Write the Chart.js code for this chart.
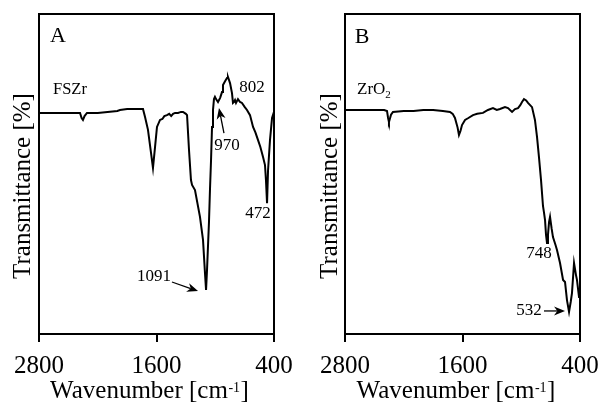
<!DOCTYPE html>
<html><head><meta charset="utf-8">
<script src="https://cdn.jsdelivr.net/npm/chart.js@4"></script>
<style>
html,body{margin:0;padding:0;background:#fff;width:603px;height:405px;overflow:hidden}
#a{position:absolute;left:0;top:0}
#b{position:absolute;left:300px;top:0}
</style></head><body>
<canvas id="a" width="300" height="405" style="width:300px;height:405px"></canvas>
<canvas id="b" width="303" height="405" style="width:303px;height:405px"></canvas>
<script>
const FONT = '"Liberation Serif", "Times New Roman", serif';
const xTickLabels = [2800, 1600, 400];
const xTitle = ['Wavenumber [cm', '-1', ']'];
const yTitle = 'Transmittance [%]';

// Panel A: FSZr
const fszrWavenumber = [2800,2600,2400,2381,2365,2351,2335,2310,2200,2100,2000,1973,1900,1800,1738,1717,1687,1656,1636,1615,1595,1564,1540,1520,1493,1470,1450,1431,1410,1380,1350,1329,1300,1288,1268,1248,1237,1207,1156,1125,1105,1094,1084,1064,1054,1043,1033,1023,1013,1003,992,972,950,931,921,900,880,870,849,829,819,808,798,788,778,768,747,727,700,676,645,614,590,563,540,512,492,482,471,461,441,420,400];
const fszrTransmittance = [69.1,69.1,69.1,69.1,67.5,66.9,68.1,69.1,69.1,69.4,69.7,70.0,70.3,70.3,70.3,67.8,63.8,56.6,51.9,58.4,64.7,66.9,67.2,68.1,68.4,68.8,68.1,68.8,69.1,69.1,69.4,69.4,68.8,68.4,57.5,48.1,46.6,45.0,36.6,29.4,19.1,13.75,20.0,35.0,45.0,54.4,64.7,70.0,73.4,74.1,73.4,72.5,73.8,75.6,77.8,79.0,80.0,80.3,78.4,75.3,72.2,72.5,73.1,72.2,72.2,73.4,72.5,72.2,71.0,70.0,68.4,64.7,63.0,60.6,58.5,55.3,52.8,48.1,40.9,51.0,60.6,67.5,69.4];

// Panel B: ZrO2
const zro2Wavenumber = [2800,2600,2400,2371,2360,2351,2330,2310,2200,2100,2000,1900,1800,1728,1700,1677,1650,1636,1620,1605,1574,1540,1493,1450,1391,1340,1289,1250,1217,1166,1135,1094,1064,1033,1010,992,972,950,931,890,860,839,819,798,778,768,757,747,737,727,716,706,690,676,650,635,604,573,553,533,512,495,482,461,441,431,410,400];
const zro2Transmittance = [70.0,70.0,70.0,69.7,67.5,66.25,68.5,69.4,69.7,69.7,70.0,70.0,69.7,69.4,68.8,67.5,64.5,62.2,63.5,65.3,66.9,67.5,68.4,68.8,69.1,70.0,70.6,70.0,70.3,70.9,70.6,69.4,70.3,70.6,71.5,72.5,73.4,73.0,72.2,70.9,66.9,61.6,55.3,48.1,40.0,38.0,35.6,31.0,28.4,31.0,35.0,36.6,33.0,30.3,27.8,26.25,22.2,16.9,16.25,10.6,6.9,10.0,12.8,22.2,18.4,16.9,11.6,11.6];

const framePlugin = {
  id:'frame',
  afterDatasetsDraw(chart){
    const {ctx, chartArea:a} = chart;
    ctx.save();
    ctx.strokeStyle='#000'; ctx.lineWidth=2;
    ctx.strokeRect(a.left, a.top, a.right-a.left, a.bottom-a.top);
    ctx.restore();
  }
};

function titlePlugin(cfg){
  return {
    id:'titles',
    afterDraw(chart){
      const {ctx, chartArea:a} = chart;
      ctx.save();
      ctx.fillStyle='#000';
      ctx.textBaseline='alphabetic';
      ctx.textAlign='left';
      // x title with superscript
      const big = '25px '+FONT, small = '14px '+FONT;
      ctx.font = big; const w0 = ctx.measureText(xTitle[0]).width, w2 = ctx.measureText(xTitle[2]).width;
      ctx.font = small; const w1 = ctx.measureText(xTitle[1]).width;
      const cx = (a.left+a.right)/2 + cfg.xTitleShift;
      let x = cx - (w0+w1+w2)/2;
      const by = a.bottom + 64;
      ctx.font = big; ctx.fillText(xTitle[0], x, by); x += w0;
      ctx.font = small; ctx.fillText(xTitle[1], x + 0.5, by - 6); x += w1 + 1;
      ctx.font = big; ctx.fillText(xTitle[2], x, by);
      // y title rotated
      ctx.translate(cfg.yTitleBaseline, (a.top+a.bottom)/2 + 12);
      ctx.rotate(-Math.PI/2);
      ctx.textAlign='center';
      ctx.font = big;
      ctx.fillText(yTitle, 0, 0);
      ctx.restore();
    }
  };
}

function annotationPlugin(notes){
  return {
    id:'notes',
    afterDatasetsDraw(chart){
      const {ctx} = chart;
      const xs = chart.scales.x, ys = chart.scales.y;
      ctx.save();
      ctx.fillStyle='#000'; ctx.strokeStyle='#000';
      for (const n of notes){
        if (n.text){
          const px = xs.getPixelForValue(n.at[0]), py = ys.getPixelForValue(n.at[1]);
          ctx.font = n.size+'px '+FONT;
          ctx.textBaseline='middle';
          ctx.textAlign = n.align || 'center';
          if (n.sub){
            ctx.textAlign='left';
            const w1 = ctx.measureText(n.text).width;
            ctx.fillText(n.text, px, py);
            ctx.font = Math.round(n.size*0.65)+'px '+FONT;
            ctx.fillText(n.sub, px+w1, py+n.size*0.3);
          } else {
            ctx.fillText(n.text, px, py);
          }
        }
        if (n.arrow){
          const x1 = xs.getPixelForValue(n.arrow[0][0]), y1 = ys.getPixelForValue(n.arrow[0][1]);
          const x2 = xs.getPixelForValue(n.arrow[1][0]), y2 = ys.getPixelForValue(n.arrow[1][1]);
          const ang = Math.atan2(y2-y1, x2-x1);
          const L = 11, W = 4.5;
          ctx.lineWidth=1.3;
          ctx.beginPath(); ctx.moveTo(x1,y1);
          ctx.lineTo(x2 - Math.cos(ang)*L*0.7, y2 - Math.sin(ang)*L*0.7); ctx.stroke();
          ctx.beginPath();
          ctx.moveTo(x2,y2);
          ctx.lineTo(x2 - Math.cos(ang)*L - Math.sin(ang)*W, y2 - Math.sin(ang)*L + Math.cos(ang)*W);
          ctx.lineTo(x2 - Math.cos(ang)*L*0.7, y2 - Math.sin(ang)*L*0.7);
          ctx.lineTo(x2 - Math.cos(ang)*L + Math.sin(ang)*W, y2 - Math.sin(ang)*L - Math.cos(ang)*W);
          ctx.closePath(); ctx.fill();
        }
      }
      ctx.restore();
    }
  };
}

const notesA = [
  {text:'A', at:[2606,93], size:22},
  {text:'FSZr', at:[2657,76.25], size:16.5, align:'left'},
  {text:'802', at:[625,76.9], size:17},
  {text:'970', at:[880,59], size:17},
  {arrow:[[911,62.8],[962,70.6]]},
  {text:'472', at:[563,37.8], size:17},
  {text:'1091', at:[1626,18.1], size:17},
  {arrow:[[1442,16.25],[1176,13.4]]}
];
const notesB = [
  {text:'B', at:[2626,92.8], size:22},
  {text:'ZrO', sub:'2', at:[2677,76.25], size:17},
  {text:'748', at:[819,25], size:17},
  {text:'532', at:[921,7.2], size:17},
  {arrow:[[768,7.2],[553,7.2]]}
];

function makeChart(id, wn, tr, cfg){
  const pts = wn.map((x,i)=>({x:x, y:tr[i]}));
  return new Chart(document.getElementById(id), {
    type:'line',
    data:{datasets:[{data:pts, borderColor:'#000', borderWidth:2, pointRadius:0, tension:0, fill:false}]},
    options:{
      responsive:false, animation:false, events:[],
      layout:{padding:{top:14, right:cfg.padRight, left:0, bottom:0}},
      plugins:{legend:{display:false}, tooltip:{enabled:false}},
      scales:{
        x:{type:'linear', reverse:true, min:400, max:2800,
          afterBuildTicks: s => { s.ticks = xTickLabels.map(v=>({value:v})); },
          afterFit: s => { s.height = 71; s.paddingLeft = 0; s.paddingRight = 0; },
          grid:{display:true, drawOnChartArea:false, drawTicks:true, tickLength:8, color:'#000', lineWidth:2},
          border:{display:true, color:'#000', width:2},
          ticks:{color:'#000', font:{family:FONT, size:25}, padding:9, maxRotation:0, autoSkip:false,
                 callback: v => String(v)},
          title:{display:false}
        },
        y:{min:0, max:100,
          afterFit: s => { s.width = cfg.yWidth; s.paddingTop = 0; s.paddingBottom = 0; },
          grid:{display:false},
          border:{display:true, color:'#000', width:2},
          ticks:{display:false},
          title:{display:false}
        }
      }
    },
    plugins:[framePlugin, annotationPlugin(cfg.notes), titlePlugin(cfg)]
  });
}

makeChart('a', fszrWavenumber, fszrTransmittance, {padRight:26, yWidth:39, yTitleBaseline:30, xTitleShift:-7.5, notes:notesA});
makeChart('b', zro2Wavenumber, zro2Transmittance, {padRight:23, yWidth:45, yTitleBaseline:36.5, xTitleShift:-7, notes:notesB});
</script>
</body></html>
